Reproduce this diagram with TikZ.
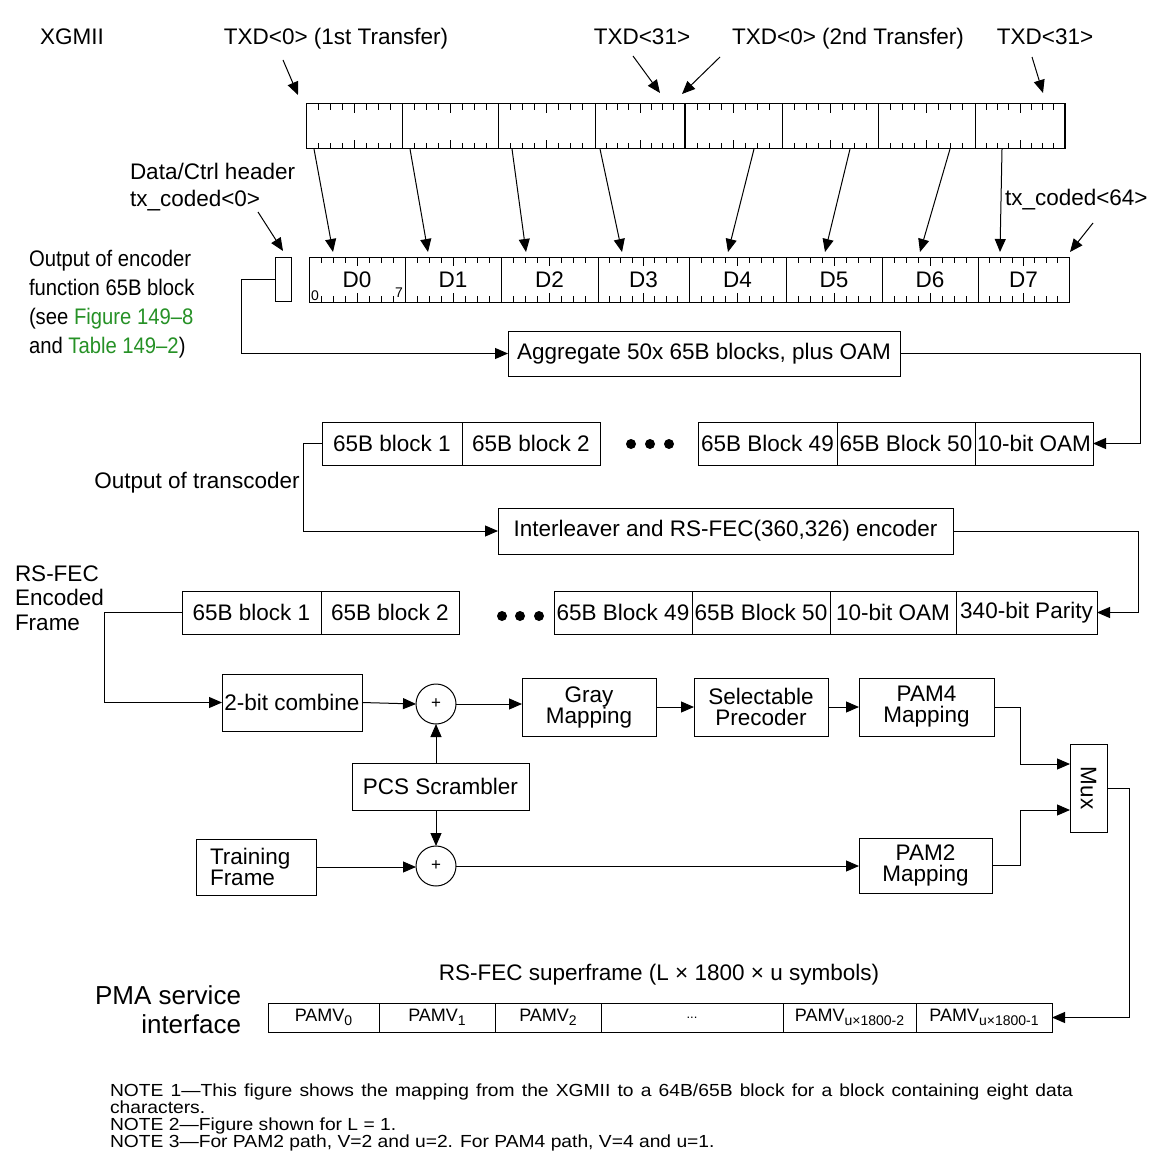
\documentclass[tikz,border=0pt]{standalone}
\usepackage{fontspec}
\setmainfont{Liberation Sans}
\newfontfamily\narrowfont[FakeStretch=0.9]{Liberation Sans}
\newfontfamily\notefont[FakeStretch=1.1]{Liberation Sans}
\usetikzlibrary{arrows.meta,calc}
\definecolor{linkgreen}{RGB}{38,145,38}
\newcommand\pamsub[1]{\raisebox{-4pt}{\fontsize{14}{14}\selectfont #1}}

\begin{document}
\begin{tikzpicture}[x=1pt,y=-1pt,
  every node/.style={inner sep=0pt, outer sep=0pt},
  txt/.style={font=\fontsize{22.5}{26}\selectfont},
  side/.style={font=\narrowfont\fontsize{22.5}{24}\selectfont},
  big/.style={font=\fontsize{26}{29}\selectfont},
  box/.style={draw, line width=1pt, font=\fontsize{22.5}{21}\selectfont, align=center},
  cell/.style={draw, line width=1pt, font=\fontsize{22.5}{24}\selectfont},
  pcell/.style={draw, line width=1pt, font=\fontsize{18}{20}\selectfont, minimum height=29pt},
  arr/.style={line width=1pt, -{Triangle[length=13pt,width=11pt]}},
  tick/.style={line width=0.9pt},
  sumnode/.style={draw, circle, line width=1pt, minimum size=40pt, font=\fontsize{17}{17}\selectfont},
  bitlbl/.style={font=\fontsize{14}{14}\selectfont},
  notetxt/.style={font=\notefont\fontsize{17.5}{17}\selectfont, anchor=base west},
]
\useasboundingbox (0,0) rectangle (1151,1158);

% ---------------- XGMII transfer register ----------------
\foreach \n/\a/\b in {1/306/402,2/402/498,3/498/595,4/595/685,5/685/782,6/782/878,7/878/975,8/975/1065}{
  \pgfmathsetmacro\w{\b-\a}
  \pgfmathsetmacro\c{(\a+\b)/2}
  \node[cell, minimum width=\w pt, minimum height=45pt] (t\n) at (\c,126.5) {};
  \foreach \k in {1,...,7}{
    \pgfmathsetmacro\xx{\a+\k*(\b-\a)/8}
    \pgfmathsetmacro\ll{ifthenelse(\k==4,9,6)}
    \draw[tick] (\xx,104) -- ++(0,\ll);
    \draw[tick] (\xx,149) -- ++(0,-\ll);
  }
}
\draw[line width=2.3pt] (t5.north west) -- (t5.south west);
\draw[line width=2.3pt] (t8.north east) -- (t8.south east);

% labels above the register
\node[txt, anchor=base west] (xgmii) at (40,45) {XGMII};
\node[txt, anchor=base] (txd0a) at (336,45) {TXD<0> (1st Transfer)};
\node[txt, anchor=base] (txd31a) at (642,45) {TXD<31>};
\node[txt, anchor=base] (txd0b) at (848,45) {TXD<0> (2nd Transfer)};
\node[txt, anchor=base] (txd31b) at (1045,45) {TXD<31>};

\coordinate (s1) at (283,60);
\coordinate (s2) at (633,56);
\coordinate (s3) at (720,57);
\coordinate (s4) at (1032,57);
\draw[arr] (s1) -- ([xshift=-8pt,yshift=9pt]t1.north west);
\draw[arr] (s2) -- ([xshift=65pt,yshift=11pt]t4.north west);
\draw[arr] (s3) -- ([xshift=-3pt,yshift=10pt]t5.north west);
\draw[arr] (s4) -- ([xshift=68pt,yshift=11pt]t8.north west);

% ---------------- 65B block ----------------
\node[cell, minimum width=16pt, minimum height=44pt] (hdr) at (283,279) {};
\foreach \n/\a/\b in {0/309/405,1/405/501,2/501/598,3/598/689,4/689/786,5/786/882,6/882/978,7/978/1069}{
  \pgfmathsetmacro\w{\b-\a}
  \pgfmathsetmacro\c{(\a+\b)/2}
  \node[cell, minimum width=\w pt, minimum height=45pt] (d\n) at (\c,279.5) {D\n};
  \foreach \k in {1,...,7}{
    \pgfmathsetmacro\xx{\a+\k*(\b-\a)/8}
    \pgfmathsetmacro\ll{ifthenelse(\k==4,9,6)}
    \draw[tick] (\xx,257) -- ++(0,\ll);
    \draw[tick] (\xx,302) -- ++(0,-\ll);
  }
}
\node[bitlbl, anchor=base west] (bit0) at (311,300) {0};
\node[bitlbl, anchor=base west] (bit7) at (395,297) {7};

% byte-lane arrows
\foreach \a/\b/\sx/\ex in {1/0/8/24, 2/1/8/23, 3/2/14/25, 4/3/5/24, 5/4/69/39, 6/5/68/39, 7/6/72/38, 8/7/27/22}
  \draw[arr] ([xshift=\sx pt]t\a.south west) -- ([xshift=\ex pt, yshift=5pt]d\b.north west);

\node[txt, anchor=base west] (hdrlbl1) at (130,180) {Data/Ctrl header};
\node[txt, anchor=base west] (hdrlbl2) at (130,207) {tx\_coded<0>};
\coordinate (hs) at (258,212);
\draw[arr] (hs) -- ([yshift=6pt]hdr.north);

\node[txt, anchor=base west] (txc64) at (1005,206) {tx\_coded<64>};
\coordinate (cs) at (1093,223);
\draw[arr] (cs) -- ([xshift=1pt,yshift=5pt]d7.north east);

\node[side, anchor=base west] (enc1) at (29,266) {Output of encoder};
\node[side, anchor=base west] (enc2) at (29,295) {function 65B block};
\node[side, anchor=base west] (enc3) at (29,324) {(see \textcolor{linkgreen}{Figure 149–8}};
\node[side, anchor=base west] (enc4) at (29,353) {and \textcolor{linkgreen}{Table 149–2})};

% ---------------- aggregation ----------------
\node[box, minimum width=392pt, minimum height=45pt] (agg) at (704,353.5) {Aggregate 50x 65B blocks, plus OAM};
\draw[arr] (hdr.west) -- ++(-34,0) |- (agg.west);

\node[cell, minimum width=140pt, minimum height=43pt] (b1) at (392,443.5) {65B block 1};
\node[cell, minimum width=138pt, minimum height=43pt] (b2) at (531,443.5) {65B block 2};
\node[cell, minimum width=139pt, minimum height=43pt] (b49) at (767.5,443.5) {65B Block 49};
\node[cell, minimum width=138pt, minimum height=43pt] (b50) at (906,443.5) {65B Block 50};
\node[cell, minimum width=118pt, minimum height=43pt] (boam) at (1034,443.5) {10-bit OAM};
\foreach \x in {631,650,669} \fill (\x,444) circle[radius=5pt];
\draw[arr] (agg.east) -- ++(240,0) |- (boam.east);

\node[txt, anchor=base] (tclbl) at (197,488) {Output of transcoder};

% ---------------- RS-FEC ----------------
\node[box, minimum width=455pt, minimum height=46pt] (inter) at (725.5,531) {Interleaver and RS-FEC(360,326) encoder};
\draw[arr] (b1.west) -- ++(-19,0) |- (inter.west);

\node[cell, minimum width=139pt, minimum height=43pt] (c1) at (251.5,612.5) {65B block 1};
\node[cell, minimum width=138pt, minimum height=43pt] (c2) at (390,612.5) {65B block 2};
\node[cell, minimum width=138pt, minimum height=43pt] (c49) at (623,612.5) {65B Block 49};
\node[cell, minimum width=138pt, minimum height=43pt] (c50) at (761,612.5) {65B Block 50};
\node[cell, minimum width=126pt, minimum height=43pt] (coam) at (893,612.5) {10-bit OAM};
\node[cell, minimum width=141pt, minimum height=43pt] (cpar) at (1026.5,612.5) {340-bit Parity};
\foreach \x in {502,520,539} \fill (\x,616) circle[radius=5pt];
\draw[arr] (inter.east) -- ++(185,0) |- (cpar.east);

\node[txt, anchor=base west] (rs1) at (15,581) {RS-FEC};
\node[txt, anchor=base west] (rs2) at (15,605) {Encoded};
\node[txt, anchor=base west] (rs3) at (15,630) {Frame};

% ---------------- PAM signal path ----------------
\node[box, minimum width=140pt, minimum height=57pt] (comb) at (292,702.5) {2-bit combine};
\node[sumnode] (p1) at (436,704) {+};
\node[box, minimum width=134pt, minimum height=58pt] (gray) at (589,707) {Gray\\Mapping};
\node[box, minimum width=134pt, minimum height=58pt] (prec) at (761,707) {Selectable\\Precoder};
\node[box, minimum width=135pt, minimum height=58pt] (pam4) at (926.5,707) {PAM4\\Mapping};
\node[box, minimum width=37pt, minimum height=88pt] (mux) at (1088.5,788) {\rotatebox{-90}{Mux}};
\node[box, minimum width=177pt, minimum height=47pt] (pcs) at (440.5,786.5) {PCS Scrambler};
\node[sumnode] (p2) at (436,866) {+};
\node[box, minimum width=120pt, minimum height=56pt, align=left] (train) at (256,867) {\makebox[92pt][l]{Training}\\\makebox[92pt][l]{Frame}};
\node[box, minimum width=133pt, minimum height=55pt] (pam2) at (925.5,865.5) {PAM2\\Mapping};

\draw[arr] (c1.west) -- ++(-78,0) |- (comb.west);
\draw[arr] (comb.east) -- (p1.west);
\draw[arr] (p1.east) -- (p1.east -| gray.west);
\draw[arr] (gray.east) -- (prec.west);
\draw[arr] (prec.east) -- (pam4.west);
\draw[arr] (pcs.north -| p1.south) -- (p1.south);
\draw[arr] (pcs.south -| p2.north) -- (p2.north);
\draw[arr] (train.east) -- (train.east -| p2.west);
\draw[arr] (p2.east) -- (p2.east -| pam2.west);
\draw[arr] (pam4.east) -- ++(26,0) |- ([yshift=24pt]mux.west);
\draw[arr] (pam2.east) -- ++(28,0) |- ([yshift=-22pt]mux.west);

% ---------------- PMA service interface ----------------
\node[txt, anchor=base] (sflbl) at (659,980) {RS-FEC superframe (L × 1800 × u symbols)};
\node[big, anchor=base east] (pma1) at (241,1004) {PMA service};
\node[big, anchor=base east] (pma2) at (241,1033) {interface};

\node[pcell, minimum width=111pt] (pv0) at (323.5,1017.5) {PAMV\pamsub{0}};
\node[pcell, minimum width=116pt] (pv1) at (437,1017.5) {PAMV\pamsub{1}};
\node[pcell, minimum width=106pt] (pv2) at (548,1017.5) {PAMV\pamsub{2}};
\node[pcell, minimum width=182pt, font=\fontsize{13}{13}\selectfont] (pv3) at (692,1017.5) {...};
\node[pcell, minimum width=133pt] (pv4) at (849.5,1017.5) {PAMV\pamsub{u×1800-2}};
\node[pcell, minimum width=136pt] (pv5) at (984,1017.5) {PAMV\pamsub{u×1800-1}};
\draw[arr] (mux.east) -- ++(22,0) |- (pv5.east);

% ---------------- notes ----------------
\node[notetxt] (note1) at (110,1096) {\makebox[963pt][s]{NOTE 1—This figure shows the mapping from the XGMII to a 64B/65B block for a block containing eight data}};
\node[notetxt] (note1b) at (110,1113) {characters.};
\node[notetxt] (note2) at (110,1130) {NOTE 2—Figure shown for L = 1.};
\node[notetxt] (note3) at (110,1147) {NOTE 3—For PAM2 path, V=2 and u=2. For PAM4 path, V=4 and u=1.};
\end{tikzpicture}
\end{document}
